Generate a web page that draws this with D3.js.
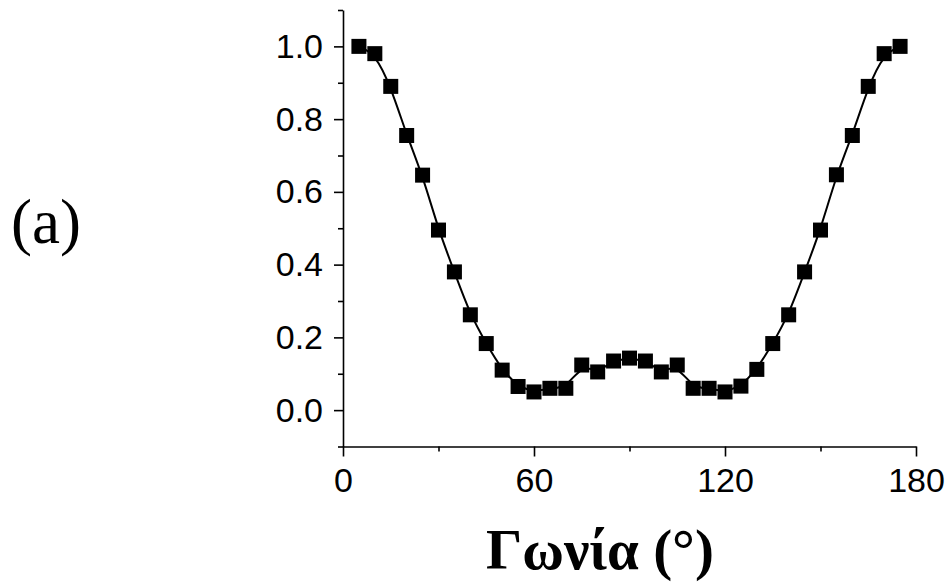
<!DOCTYPE html>
<html lang="el">
<head>
<meta charset="utf-8">
<script src="https://d3js.org/d3.v7.min.js"></script>
<style type="text/css">
body {
	margin: 0;
	background-color: #ffffff;
}
.axis text {
	font-family: "Liberation Sans", Arial, sans-serif;
	font-size: 34px;
	fill: #000;
}
.axis line, .axis path {
	fill: none;
	stroke: #000;
	stroke-width: 1.6;
}
</style>
</head>
<body>
<script type="text/javascript">

// Angle (degrees) and normalised value
var angles = [5, 10, 15, 20, 25, 30, 35, 40, 45, 50, 55, 60, 65, 70, 75, 80, 85, 90,
              95, 100, 105, 110, 115, 120, 125, 130, 135, 140, 145, 150, 155, 160, 165, 170, 175];
var values = [1.0, 0.98, 0.89, 0.755, 0.646, 0.495, 0.38, 0.262, 0.183, 0.11, 0.065, 0.05, 0.06, 0.06,
              0.124, 0.105, 0.135, 0.143, 0.135, 0.105, 0.124, 0.06, 0.06, 0.05, 0.066, 0.112,
              0.183, 0.262, 0.38, 0.495, 0.647, 0.755, 0.89, 0.98, 1.0];

var xTicks = [0, 60, 120, 180];
var xMinor = [30, 90, 150];
var yTicks = [0.0, 0.2, 0.4, 0.6, 0.8, 1.0];
var yMinor = [-0.1, 0.1, 0.3, 0.5, 0.7, 0.9, 1.1];

var width = 950, height = 583;

var data = angles.map(function(a, i) { return {x: a, y: values[i]}; });

var svg = d3.select("body").append("svg")
  .attr("width", width)
  .attr("height", height);

var x = d3.scaleLinear().domain([0, 180]).range([343, 916]);
var y = d3.scaleLinear().domain([-0.1, 1.1]).range([446.5, 10]);

// minor ticks
svg.append("g")
  .attr("class", "axis")
  .attr("transform", "translate(0," + y(-0.1) + ")")
  .call(d3.axisBottom(x).tickValues(xMinor).tickSize(5).tickFormat(""))
  .select(".domain").remove();

svg.append("g")
  .attr("class", "axis")
  .attr("transform", "translate(" + x(0) + ",0)")
  .call(d3.axisLeft(y).tickValues(yMinor).tickSize(5).tickFormat(""))
  .select(".domain").remove();

// major axes
svg.append("g")
  .attr("class", "axis")
  .attr("transform", "translate(0," + y(-0.1) + ")")
  .call(d3.axisBottom(x).tickValues(xTicks).tickSize(10).tickSizeOuter(0).tickPadding(10)
    .tickFormat(d3.format("d")))
  .selectAll("text").attr("dy", "0.75em");

svg.append("g")
  .attr("class", "axis")
  .attr("transform", "translate(" + x(0) + ",0)")
  .call(d3.axisLeft(y).tickValues(yTicks).tickSize(9).tickSizeOuter(0).tickPadding(11)
    .tickFormat(d3.format(".1f")));

// fitted line
var line = d3.line()
  .x(function(d) { return x(d.x); })
  .y(function(d) { return y(d.y); })
  .curve(d3.curveBasis);

svg.append("path")
  .datum(data)
  .attr("d", line)
  .attr("fill", "none")
  .attr("stroke", "#000")
  .attr("stroke-width", 2);

// square markers
var s = 15;
svg.selectAll(".pt")
  .data(data)
  .enter().append("rect")
  .attr("class", "pt")
  .attr("x", function(d) { return x(d.x) - s / 2; })
  .attr("y", function(d) { return y(d.y) - s / 2; })
  .attr("width", s)
  .attr("height", s)
  .attr("fill", "#000");

// axis title
svg.append("text")
  .attr("x", 486)
  .attr("y", 569)
  .style("font-family", "'Liberation Serif', 'Times New Roman', serif")
  .style("font-weight", "bold")
  .style("font-size", "57px")
  .text("Γωνία (°)");

// panel label
svg.append("text")
  .attr("x", 11)
  .attr("y", 243)
  .style("font-family", "'Liberation Serif', 'Times New Roman', serif")
  .style("font-size", "63px")
  .text("(a)");

</script>
</body>
</html>
